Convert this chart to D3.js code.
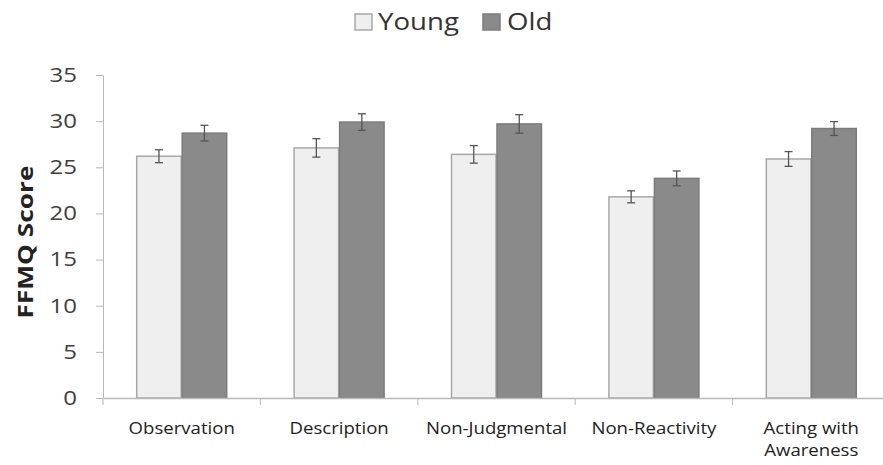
<!DOCTYPE html>
<html><head><meta charset="utf-8">
<script src="https://cdn.jsdelivr.net/npm/d3@7"></script>
<style>body{margin:0;background:#fff}svg{display:block}</style>
</head><body><svg id="c" width="883" height="465"></svg>
<script>
const categories = ["Observation","Description","Non-Judgmental","Non-Reactivity","Acting with Awareness"];
const seriesNames = ["Young","Old"];
const youngValues = [26.2, 27.1, 26.4, 21.8, 25.9];
const youngErrors = [0.7, 1.0, 0.95, 0.65, 0.8];
const oldValues = [28.7, 29.9, 29.7, 23.8, 29.2];
const oldErrors = [0.85, 0.9, 1.0, 0.8, 0.75];
const yTicks = [0,5,10,15,20,25,30,35];

const svg = d3.select("#c");
const font = "'Open Sans', sans-serif";
const SX = 1.2; // horizontal stretch of the text in the reference
const m = {left:103, right:-7, top:75, bottom:67};
const W = 883, H = 465;
const x = d3.scaleBand().domain(categories).range([m.left, W - m.right]).paddingInner(0).paddingOuter(0);
const y = d3.scaleLinear().domain([0,35]).range([H - m.bottom, m.top]);
const xs = d3.scaleBand().domain(seriesNames).range([0, x.bandwidth()]).paddingInner(0).paddingOuter(0.73);

// y axis
const ya = svg.append("g").attr("transform",`translate(${m.left},0)`)
  .call(d3.axisLeft(y).tickValues(yTicks).tickSize(7).tickSizeOuter(0).tickPadding(19));
ya.select(".domain").attr("stroke","#b8b8b8");
ya.selectAll(".tick line").attr("stroke","#b8b8b8");
ya.selectAll(".tick text").attr("font-family",font).attr("font-size",20).attr("fill","#404040")
  .attr("x", -26/SX).attr("transform",`scale(${SX},1)`);

const data = categories.map((c,i)=>({c, vals:[
  {s:"Young", v:youngValues[i], e:youngErrors[i]},
  {s:"Old", v:oldValues[i], e:oldErrors[i]}]}));

const g = svg.append("g").selectAll("g").data(data).join("g")
  .attr("transform", d=>`translate(${x(d.c)},0)`);
g.selectAll("rect").data(d=>d.vals).join("rect")
  .attr("x", d=>xs(d.s)+0.5).attr("width", xs.bandwidth()-1)
  .attr("y", d=>y(d.v)).attr("height", d=>y(0)-y(d.v))
  .attr("fill", d=>d.s==="Young"?"#efefef":"#8a8a8b")
  .attr("stroke", d=>d.s==="Young"?"#a8a8a8":"#7c7c7c").attr("stroke-width",1.5);
const eb = g.selectAll("g.eb").data(d=>d.vals).join("g").attr("class","eb")
  .attr("transform", d=>`translate(${xs(d.s)+xs.bandwidth()/2},0)`);
eb.append("line").attr("y1",d=>y(d.v+d.e)).attr("y2",d=>y(d.v-d.e)).attr("stroke","#555").attr("stroke-width",1.3);
eb.append("line").attr("x1",-4).attr("x2",4).attr("y1",d=>y(d.v+d.e)).attr("y2",d=>y(d.v+d.e)).attr("stroke","#555").attr("stroke-width",1.3);
eb.append("line").attr("x1",-4).attr("x2",4).attr("y1",d=>y(d.v-d.e)).attr("y2",d=>y(d.v-d.e)).attr("stroke","#555").attr("stroke-width",1.3);

// x axis
const xa = svg.append("g").attr("transform",`translate(0,${y(0)})`)
  .call(d3.axisBottom(x).tickSize(0).tickPadding(0).tickFormat(""));
xa.select(".domain").attr("stroke","#b8b8b8").attr("stroke-width",1.5);
svg.append("g").selectAll("line").data(categories).join("line")
  .attr("x1",d=>x(d)).attr("x2",d=>x(d)).attr("y1",y(0)).attr("y2",y(0)+7).attr("stroke","#b8b8b8");
svg.append("g").selectAll("text").data(categories).join("text")
  .attr("transform", d=>`translate(${x(d)+x.bandwidth()/2},434) scale(${SX},1)`)
  .attr("text-anchor","middle").attr("font-family",font).attr("font-size",15.5).attr("fill","#222")
  .each(function(d){
    const t = d3.select(this);
    if (d === "Acting with Awareness") {
      t.append("tspan").attr("x", 0).text("Acting with");
      t.append("tspan").attr("x", 0).attr("dy",22).text("Awareness");
    } else t.text(d);
  });

// y title
svg.append("text").attr("transform","translate(33,242) rotate(-90) scale(1.25,1)")
  .attr("text-anchor","middle").attr("font-family",font).attr("font-weight","bold")
  .attr("font-size",21).attr("fill","#222").text("FFMQ Score");

// legend
const leg = [{s:"Young",x:355,dx:23,fill:"#efefef",stroke:"#a8a8a8"},{s:"Old",x:483,dx:24,fill:"#8a8a8b",stroke:"#7c7c7c"}];
const lg = svg.append("g").selectAll("g").data(leg).join("g");
lg.append("rect").attr("x",d=>d.x).attr("y",14).attr("width",17).attr("height",16)
  .attr("fill",d=>d.fill).attr("stroke",d=>d.stroke).attr("stroke-width",1.5);
lg.append("text").attr("transform",d=>`translate(${d.x+d.dx},30) scale(1.15,1)`)
  .attr("font-family",font).attr("font-size",24).attr("fill","#333").text(d=>d.s);
</script></body></html>
